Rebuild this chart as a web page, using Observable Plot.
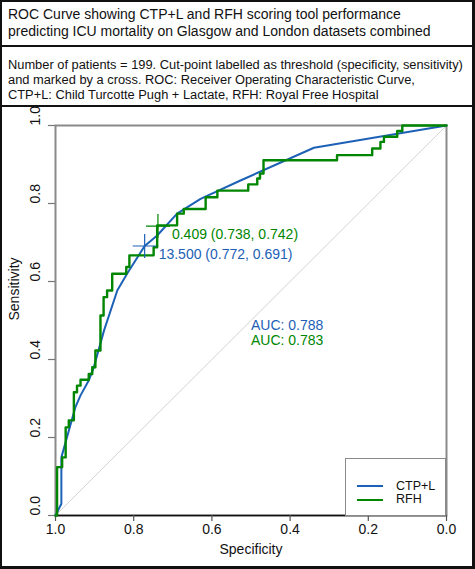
<!DOCTYPE html>
<html>
<head>
<meta charset="utf-8">
<script src="https://cdn.jsdelivr.net/npm/d3@7"></script>
<script src="https://cdn.jsdelivr.net/npm/@observablehq/plot@0.6"></script>
<style>
  html, body { margin: 0; padding: 0; background: #fff; }
  body { width: 475px; height: 569px; position: relative; overflow: hidden;
         font-family: "Liberation Sans", Arial, Helvetica, sans-serif; color: #111; }
  #frame { position: absolute; left: 0; top: 0; width: 475px; height: 569px; box-sizing: border-box;
           border-style: solid; border-color: #111; border-width: 2px 3px 3px 2px; pointer-events: none; z-index: 5; }
  .sep { position: absolute; left: 0; width: 475px; height: 2px; background: #111; }
  #title { position: absolute; left: 8px; top: 5.5px; font-size: 14px; line-height: 17px; white-space: nowrap; }
  #subtitle { position: absolute; left: 8px; top: 57px; font-size: 12.85px; line-height: 15px; white-space: nowrap; }
  #chart { position: absolute; left: 0; top: 107px; }
  #legend { position: absolute; left: 345px; top: 458px; width: 101px; height: 57.5px; box-sizing: border-box;
            border: 1.5px solid #8a8a8a; background: #fff; }
  .lrow { position: absolute; left: 0; height: 13px; font-size: 12.5px; line-height: 13px; }
  .lrow span.sw { position: absolute; left: 11px; top: 5.5px; width: 26px; height: 2px; }
  .lrow span.tx { position: absolute; left: 50px; top: 0; white-space: nowrap; }
</style>
</head>
<body>
<div id="title">ROC Curve showing CTP+L and RFH scoring tool performance<br>predicting ICU mortality on Glasgow and London datasets combined</div>
<div class="sep" style="top:45px"></div>
<div id="subtitle">Number of patients = 199. Cut-point labelled as threshold (specificity, sensitivity)<br>and marked by a cross. ROC: Receiver Operating Characteristic Curve,<br>CTP+L: Child Turcotte Pugh + Lactate, RFH: Royal Free Hospital</div>
<div class="sep" style="top:105px"></div>
<div id="chart"></div>
<div id="legend"></div>
<div id="frame"></div>
<script>
// ---- data ----
const seriesNames = ["CTP+L", "RFH"];
const seriesColors = ["#1c61b6", "#008600"];

const specTicks = [1.0, 0.8, 0.6, 0.4, 0.2, 0.0];
const sensTicks = [0.0, 0.2, 0.4, 0.6, 0.8, 1.0];

// CTP+L ROC points (specificity, sensitivity)
const ctplSpec = [1.000, 0.985, 0.985, 0.949, 0.936, 0.915, 0.902, 0.876, 0.842, 0.817, 0.772, 0.740, 0.689, 0.629, 0.527, 0.339, 0.000];
const ctplSens = [0.000, 0.030, 0.149, 0.278, 0.308, 0.346, 0.380, 0.474, 0.577, 0.620, 0.691, 0.718, 0.774, 0.812, 0.859, 0.943, 1.000];

// RFH ROC points (step corners, specificity, sensitivity)
const rfhSpec = [1.000, 0.996, 0.983, 0.974, 0.966, 0.953, 0.945, 0.936, 0.915, 0.906, 0.898, 0.885, 0.877, 0.868, 0.855,
                 0.819, 0.811, 0.749, 0.740, 0.689, 0.672, 0.616, 0.586, 0.507, 0.484, 0.477, 0.468, 0.280, 0.190, 0.169,
                 0.160, 0.126, 0.113, 0.000];
const rfhSens = [0.000, 0.124, 0.149, 0.226, 0.244, 0.316, 0.333, 0.348, 0.363, 0.380, 0.423, 0.513, 0.560, 0.577, 0.620,
                 0.637, 0.667, 0.688, 0.744, 0.774, 0.786, 0.816, 0.833, 0.849, 0.864, 0.877, 0.911, 0.924, 0.941, 0.958,
                 0.971, 0.986, 1.000, 1.000];

// cut-points
const thrValues = [13.5, 0.409];
const thrSpec = [0.772, 0.738];
const thrSens = [0.691, 0.742];

// AUC
const aucValues = [0.788, 0.783];
const aucLabelX = 0.5;
const aucLabelY = [0.487, 0.449];

// chance diagonal
const diagSpec = [1, 0];
const diagSens = [0, 1];

// ---- build tables ----
const ctpl = ctplSpec.map((s, i) => ({spec: s, sens: ctplSens[i]}));
const rfh = rfhSpec.map((s, i) => ({spec: s, sens: rfhSens[i]}));
const diag = diagSpec.map((s, i) => ({spec: s, sens: diagSens[i]}));
const thr = thrValues.map((t, i) => ({
  spec: thrSpec[i], sens: thrSens[i], color: seriesColors[i],
  label: `${t.toFixed(3)} (${thrSpec[i].toFixed(3)}, ${thrSens[i].toFixed(3)})`
}));
const auc = aucValues.map((a, i) => ({spec: aucLabelX, sens: aucLabelY[i], color: seriesColors[i], label: `AUC: ${a.toFixed(3)}`}));

const crossSymbol = {
  draw(ctx, size) {
    const r = Math.sqrt(size / Math.PI);
    ctx.moveTo(-r, 0); ctx.lineTo(r, 0);
    ctx.moveTo(0, -r); ctx.lineTo(0, r);
  }
};

const fmt = d => d.toFixed(1);
const FONT = "'Liberation Sans', Arial, Helvetica, sans-serif";

const chart = Plot.plot({
  width: 475,
  height: 462,
  marginTop: 18,
  marginBottom: 54,
  marginLeft: 55,
  marginRight: 29,
  x: {domain: [1, 0]},
  y: {domain: [0, 1]},
  style: {fontFamily: FONT, background: "transparent", color: "#111"},
  marks: [
    Plot.frame({stroke: "#8a8a8a", strokeWidth: 2}),
    Plot.ruleY([0], {stroke: "#111", strokeWidth: 1.5}),
    Plot.axisX({ticks: specTicks, tickSize: 6, tickFormat: () => "", label: null, stroke: "#555", strokeWidth: 1.2}),
    Plot.axisY({ticks: sensTicks, tickSize: 7, tickFormat: () => "", label: null, stroke: "#777", strokeWidth: 1.2}),
    Plot.text(specTicks, {x: d => d, frameAnchor: "bottom", dy: 18, text: fmt, fontSize: 14, fill: "#111"}),
    Plot.text(sensTicks, {y: d => d, frameAnchor: "left", dx: -20, rotate: -90, text: fmt, fontSize: 14, fill: "#111"}),
    Plot.text(["Specificity"], {frameAnchor: "bottom", dy: 38, text: d => d, fontSize: 14, fill: "#111"}),
    Plot.text(["Sensitivity"], {frameAnchor: "left", dx: -41, rotate: -90, text: d => d, fontSize: 14, fill: "#111"}),
    Plot.line(diag, {x: "spec", y: "sens", stroke: "#d4d4d4", strokeWidth: 1}),
    Plot.line(ctpl, {x: "spec", y: "sens", stroke: seriesColors[0], strokeWidth: 2}),
    Plot.line(rfh, {x: "spec", y: "sens", stroke: seriesColors[1], strokeWidth: 2.4, curve: "step-after"}),
    Plot.dot(thr, {x: "spec", y: "sens", symbol: crossSymbol, r: 12, fill: "none", stroke: "color", strokeWidth: 1.2}),
    Plot.text(thr, {x: "spec", y: "sens", text: "label", fill: "color", textAnchor: "start", dx: 14, dy: 8.5, fontSize: 14}),
    Plot.text(auc, {x: "spec", y: "sens", text: "label", fill: "color", textAnchor: "start", fontSize: 14})
  ]
});
document.getElementById("chart").appendChild(chart);

// legend
const legend = document.getElementById("legend");
seriesNames.forEach((name, i) => {
  const row = document.createElement("div");
  row.className = "lrow";
  row.style.top = (20.5 + i * 13.5) + "px";
  const sw = document.createElement("span");
  sw.className = "sw";
  sw.style.background = seriesColors[i];
  const tx = document.createElement("span");
  tx.className = "tx";
  tx.textContent = name;
  row.appendChild(sw);
  row.appendChild(tx);
  legend.appendChild(row);
});
</script>
</body>
</html>
